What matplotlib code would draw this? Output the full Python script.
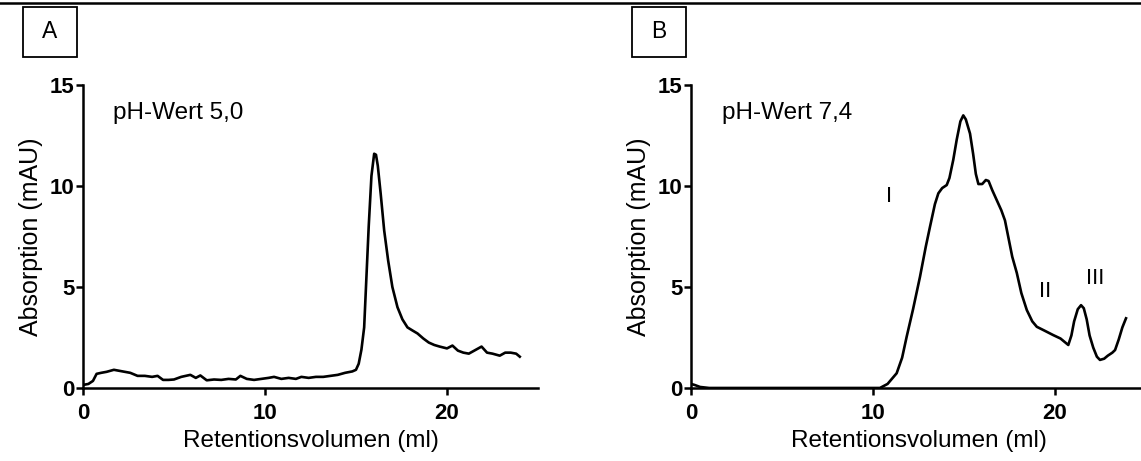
import matplotlib
matplotlib.use("Agg")
import matplotlib.pyplot as plt
from matplotlib.patches import Rectangle
from matplotlib.lines import Line2D

plt.rcParams['font.family'] = ['Liberation Sans', 'DejaVu Sans']

# Panel A: pH 5,0
vol_a = [0, 0.3, 0.55, 0.75, 1.0, 1.3, 1.7, 2.0, 2.3, 2.6, 3.0, 3.4, 3.8, 4.1, 4.4, 4.7,
         5.0, 5.4, 5.9, 6.2, 6.45, 6.8, 7.2, 7.6, 8.0, 8.4, 8.65, 9.0, 9.4, 9.8, 10.2,
         10.5, 10.9, 11.3, 11.7, 12.0, 12.4, 12.8, 13.2, 13.6, 14.0, 14.4, 14.8,
         15.0, 15.15, 15.3, 15.45, 15.55, 15.7, 15.85, 16.0, 16.1, 16.2, 16.36, 16.55,
         16.77, 17.0, 17.28, 17.55, 17.83, 18.1, 18.38, 18.7, 19.0, 19.3, 19.6, 20.0,
         20.3, 20.6, 20.9, 21.2, 21.5, 21.9, 22.2, 22.5, 22.9, 23.2, 23.5, 23.8, 24.0]
abs_a = [0.15, 0.2, 0.35, 0.7, 0.75, 0.8, 0.9, 0.85, 0.8, 0.75, 0.6, 0.6, 0.55, 0.6, 0.4, 0.4,
         0.42, 0.55, 0.65, 0.5, 0.62, 0.38, 0.42, 0.4, 0.45, 0.42, 0.6, 0.45, 0.4, 0.45, 0.5,
         0.55, 0.45, 0.5, 0.45, 0.55, 0.5, 0.55, 0.55, 0.6, 0.65, 0.75, 0.82,
         0.9, 1.2, 1.9, 3.0, 5.0, 8.0, 10.5, 11.6, 11.55, 11.0, 9.6, 7.8,
         6.3, 5.0, 4.0, 3.4, 3.0, 2.85, 2.7, 2.45, 2.25, 2.13, 2.05, 1.96,
         2.1, 1.85, 1.75, 1.7, 1.85, 2.05, 1.75, 1.7, 1.6, 1.75, 1.75, 1.7, 1.55]

# Panel B: pH 7,4
vol_b = [0, 0.2, 0.5, 1, 5, 10, 10.38, 10.8, 11.3, 11.6, 11.85, 12.2, 12.58, 12.9, 13.13,
         13.4, 13.59, 13.8, 14.05, 14.2, 14.41, 14.6, 14.8, 14.96, 15.1, 15.33, 15.5,
         15.65, 15.79, 16.0, 16.2, 16.35, 16.55, 16.8, 17.05, 17.25, 17.45, 17.65, 17.9,
         18.15, 18.45, 18.75, 19.0, 19.4, 19.9, 20.3, 20.73, 20.9, 21.05, 21.25, 21.43,
         21.58, 21.74, 21.9, 22.1, 22.3, 22.47, 22.7, 22.9, 23.15, 23.3, 23.5, 23.7, 23.9]
abs_b = [0.2, 0.15, 0.05, 0, 0, 0, 0, 0.2, 0.73, 1.5, 2.54, 3.9, 5.5, 7.0, 7.98,
         9.1, 9.64, 9.9, 10.05, 10.4, 11.3, 12.3, 13.2, 13.5, 13.3, 12.6, 11.6,
         10.6, 10.1, 10.1, 10.3, 10.25, 9.8, 9.3, 8.8, 8.3, 7.4, 6.5, 5.7,
         4.7, 3.86, 3.3, 3.03, 2.85, 2.62, 2.45, 2.13, 2.6, 3.3, 3.9, 4.1,
         3.95, 3.4, 2.6, 2.0, 1.55, 1.39, 1.45, 1.6, 1.75, 1.88, 2.4, 3.0, 3.45]

peak_labels = ['I', 'II', 'III']
peak_x = [10.9, 19.45, 22.2]
peak_y = [9.5, 4.77, 5.43]

fig = plt.figure(figsize=(11.41, 4.61), dpi=100)

def style(ax):
    ax.spines['top'].set_visible(False)
    ax.spines['right'].set_visible(False)
    ax.spines['left'].set_linewidth(1.8)
    ax.spines['bottom'].set_linewidth(1.8)
    ax.set_xlim(0, 25)
    ax.set_ylim(0, 15)
    ax.set_xticks([0, 10, 20])
    ax.set_yticks([0, 5, 10, 15])
    ax.tick_params(direction='out', length=5, width=1.8, labelsize=16)
    ax.tick_params(axis='x', pad=6)
    ax.tick_params(axis='y', pad=1)
    for t in ax.get_xticklabels() + ax.get_yticklabels():
        t.set_fontweight('bold')
    ax.set_xlabel('Retentionsvolumen (ml)', fontsize=17.5, labelpad=4)
    ax.set_ylabel('Absorption (mAU)', fontsize=18, labelpad=5)
    ax.patch.set_alpha(0)

ax1 = fig.add_axes([0.0727, 0.1584, 0.3988, 0.657])
ax1.plot(vol_a, abs_a, color='black', lw=1.9, solid_joinstyle='round')
style(ax1)
ax1.text(1.65, 13.6, 'pH-Wert 5,0', fontsize=17.5, va='center', ha='left')

ax2 = fig.add_axes([0.6056, 0.1584, 0.3988, 0.657])
ax2.plot(vol_b, abs_b, color='black', lw=1.9, solid_joinstyle='round')
style(ax2)
ax2.text(1.7, 13.6, 'pH-Wert 7,4', fontsize=17.5, va='center', ha='left')
for lab, px, py in zip(peak_labels, peak_x, peak_y):
    ax2.text(px, py, lab, fontsize=16, ha='center', va='center')

# top rule and panel letters
fig.add_artist(Line2D([0, 1], [1 - 3 / 461, 1 - 3 / 461], color='black', lw=1.8,
                      transform=fig.transFigure))
for letter, x0 in [('A', 23), ('B', 632)]:
    fig.add_artist(Rectangle((x0 / 1141, 1 - 57 / 461), 54 / 1141, 50 / 461,
                             fill=False, lw=1.3, edgecolor='black',
                             transform=fig.transFigure))
    fig.text((x0 + 27) / 1141, 1 - 32 / 461, letter, fontsize=16.5, ha='center', va='center')

fig.savefig('out.png', dpi=100)
